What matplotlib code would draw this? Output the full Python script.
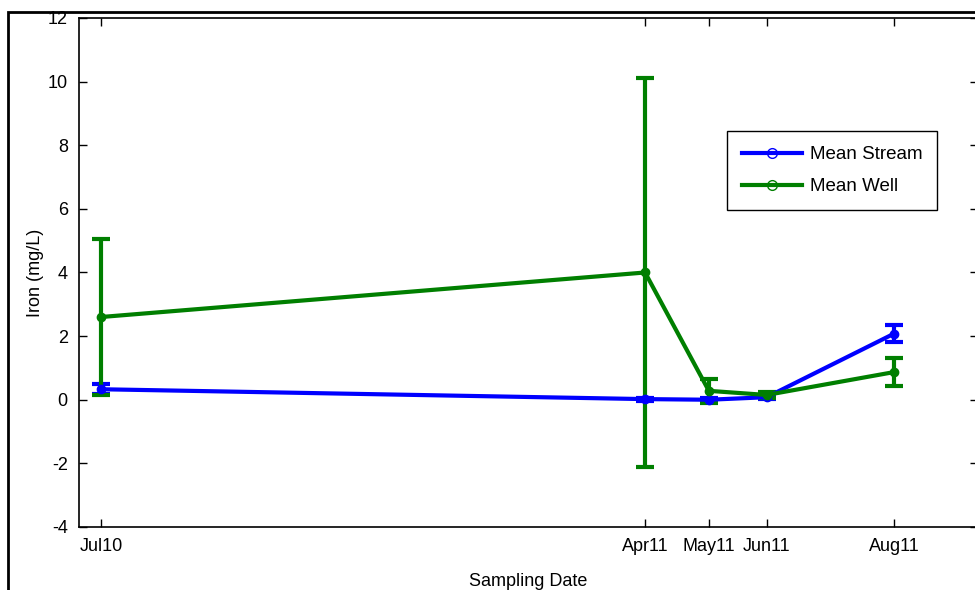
import datetime as dt
import matplotlib
matplotlib.use('Agg')
import matplotlib.pyplot as plt
import matplotlib.dates as mdates
from matplotlib.lines import Line2D
from matplotlib.patches import Rectangle

# sampling dates and mean iron values (mg/L)
dates = [dt.datetime(2010, 7, 15), dt.datetime(2011, 4, 14), dt.datetime(2011, 5, 16),
         dt.datetime(2011, 6, 14), dt.datetime(2011, 8, 17)]
stream_mean = [0.33, 0.02, 0.0, 0.08, 2.08]
stream_err = [0.16, 0.05, 0.05, 0.05, 0.28]
well_mean = [2.6, 4.0, 0.28, 0.15, 0.87]
well_err = [2.45, 6.12, 0.38, 0.08, 0.45]

plt.rcParams['font.family'] = ['Liberation Sans', 'DejaVu Sans']
plt.rcParams['axes.unicode_minus'] = False

fig = plt.figure(figsize=(9.75, 5.9), dpi=100)
ax = fig.add_axes([0.081, 0.1068, 0.922, 0.8627])

ax.errorbar(dates, stream_mean, yerr=stream_err, color='#0000ff', lw=3, marker='o', ms=6,
            mfc='#0000ff', capsize=6.5, capthick=3, elinewidth=3)
ax.errorbar(dates, well_mean, yerr=well_err, color='#007f00', lw=3, marker='o', ms=6,
            mfc='#007f00', capsize=6.5, capthick=3, elinewidth=3)

ax.set_xlim(dt.datetime(2010, 7, 4), dt.datetime(2011, 9, 28))
ax.set_ylim(-4, 12)
ax.set_yticks(range(-4, 13, 2))
ax.set_xticks(dates)
ax.xaxis.set_major_formatter(mdates.DateFormatter('%b%y'))
ax.tick_params(direction='in', top=True, right=True, length=6, width=1, labelsize=13)
ax.tick_params(axis='x', pad=8)
ax.tick_params(axis='y', pad=8)
for s in ax.spines.values():
    s.set_linewidth(1.2)

ax.set_xlabel('Sampling Date', fontsize=13, labelpad=13)
ax.set_ylabel('Iron (mg/L)', fontsize=13, labelpad=3)

handles = [Line2D([], [], color='#0000ff', lw=3, marker='o', ms=7, mfc='none', mew=1),
           Line2D([], [], color='#007f00', lw=3, marker='o', ms=7, mfc='none', mew=1)]
leg = ax.legend(handles, ['Mean Stream', 'Mean Well'], loc='upper left',
                bbox_to_anchor=(0.721, 0.778), fontsize=13.5, fancybox=False, framealpha=1,
                handlelength=3.2, borderpad=0.8, labelspacing=0.8, handletextpad=0.4,
                borderaxespad=0)
leg.get_frame().set_edgecolor('black')
leg.get_frame().set_linewidth(1)

fig.patches.append(Rectangle((8 / 975, -0.01), 1.1, (590 - 12) / 590 + 0.01,
                             transform=fig.transFigure, fill=False, lw=2, ec='black'))

fig.savefig('out.png', dpi=100)
